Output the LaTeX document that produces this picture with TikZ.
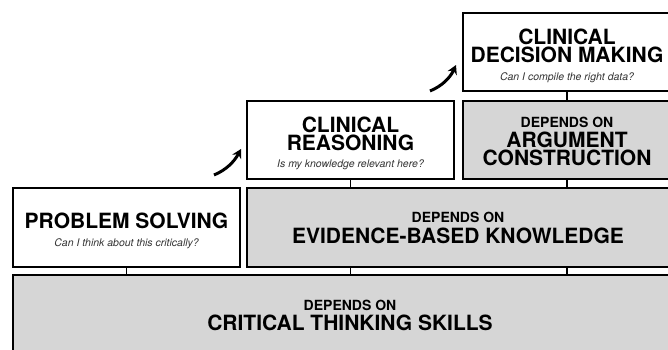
\documentclass[tikz,border=0pt]{standalone}
\usepackage{fontspec}
\setmainfont{TeX Gyre Heros}
\usetikzlibrary{positioning, arrows.meta}

\begin{document}
\begin{tikzpicture}[x=1pt, y=-1pt]
    % Styles
    \tikzstyle{level} = [draw, line width=1.8pt, inner sep=0pt]
    \tikzstyle{open level} = [level, fill=white]
    \tikzstyle{base level} = [level, fill=black!16]
    \tikzstyle{title} = [anchor=base, inner sep=0pt, align=center, font=\fontsize{21}{18}\selectfont\bfseries]
    \tikzstyle{depends} = [anchor=base, inner sep=0pt, font=\fontsize{14}{14}\selectfont\bfseries]
    \tikzstyle{question} = [anchor=base, inner sep=0pt, text=black!80, font=\fontsize{10.5}{10.5}\selectfont\itshape]
    \tikzstyle{link} = [line width=1.8pt]
    \tikzstyle{climb} = [-{Stealth[length=9pt, width=10pt]}, line width=3pt]

    \useasboundingbox (0, 0) rectangle (668, 349);

    % Nodes
    \node[base level, minimum width=674, minimum height=90] (thinking) at (350, 320) {};
    \node[open level, minimum width=227, minimum height=79] (solving) at (126.5, 227.5) {};
    \node[base level, minimum width=424, minimum height=79] (evidence) at (459, 227.5) {};
    \node[open level, minimum width=207, minimum height=78] (reasoning) at (350.5, 140) {};
    \node[base level, minimum width=208, minimum height=78] (argument) at (567, 140) {};
    \node[open level, minimum width=208, minimum height=78] (decision) at (567, 52) {};

    \node[depends] (thinkingpre) at (350, 310.5) {DEPENDS ON};
    \node[title] (thinkingtitle) at (350, 330) {CRITICAL THINKING SKILLS};

    \node[title] (solvingtitle) at (126.5, 228) {PROBLEM SOLVING};
    \node[question] (solvingask) at (126.5, 246) {Can I think about this critically?};

    \node[depends] (evidencepre) at (458, 222) {DEPENDS ON};
    \node[title] (evidencetitle) at (458, 243) {EVIDENCE-BASED KNOWLEDGE};

    \node[title] (reasoningtitle) at (350.5, 150.5) {CLINICAL\\REASONING};
    \node[question] (reasoningask) at (350.5, 167) {Is my knowledge relevant here?};

    \node[depends] (argumentpre) at (567, 127) {DEPENDS ON};
    \node[title] (argumenttitle) at (567, 165) {ARGUMENT\\CONSTRUCTION};

    \node[title] (decisiontitle) at (567, 62.5) {CLINICAL\\DECISION MAKING};
    \node[question] (decisionask) at (567, 80) {Can I compile the right data?};

    \coordinate (rise1) at (214, 175);
    \coordinate (peak1) at (241, 149);
    \coordinate (rise2) at (430, 91);
    \coordinate (peak2) at (456, 65);

    % Edges
    \draw[link] (solving.south) -- (solving.south |- thinking.north);
    \draw[link] (reasoning.south) -- (reasoning.south |- evidence.north);
    \draw[link] (reasoning.south |- evidence.south) -- (reasoning.south |- thinking.north);
    \draw[link] (decision.south) -- (argument.north);
    \draw[link] (argument.south) -- (argument.south |- evidence.north);
    \draw[link] (argument.south |- evidence.south) -- (argument.south |- thinking.north);

    \draw[climb] (rise1) .. controls (226, 170) and (234, 162) .. (peak1);
    \draw[climb] (rise2) .. controls (442, 86) and (450, 78) .. (peak2);
\end{tikzpicture}
\end{document}
